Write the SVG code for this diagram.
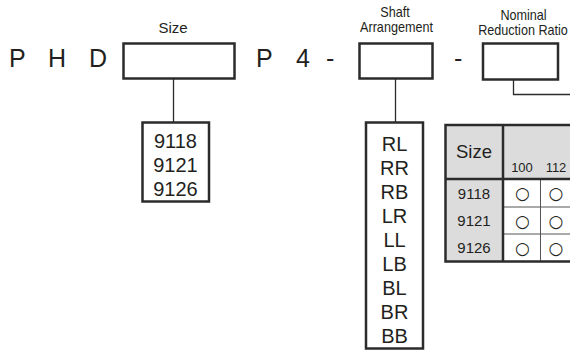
<svg xmlns="http://www.w3.org/2000/svg" width="570" height="350" viewBox="0 0 570 350">
<style>
.code{font-family:"Liberation Sans",Arial,sans-serif;font-size:25px;fill:#231f20}
.lbl{font-family:"Liberation Sans",Arial,sans-serif;font-size:14.5px;fill:#231f20;text-anchor:middle}
.lblw{font-family:"Liberation Sans",Arial,sans-serif;font-size:15px;fill:#231f20;text-anchor:middle}
.box{fill:#fff;stroke:#2b2b2b;stroke-width:2.5}
.item{font-family:"Liberation Sans",Arial,sans-serif;font-size:20px;fill:#231f20;text-anchor:middle}
.conn{fill:none;stroke:#2b2b2b;stroke-width:1.3}
.th{font-family:"Liberation Sans",Arial,sans-serif;fill:#231f20;text-anchor:middle}
.gray{fill:#dcdcdc}
.thick{stroke:#2b2b2b;stroke-width:2.5;fill:none}
.thin{stroke:#555;stroke-width:1;fill:none}
.mark{font-family:"DejaVu Sans",sans-serif;font-size:17px;fill:#231f20;text-anchor:middle}
</style>

<g id="code-letters">
<text class="code" x="9" y="67">P</text>
<text class="code" x="48" y="67">H</text>
<text class="code" x="89" y="67">D</text>
<text class="code" x="256" y="67">P</text>
<text class="code" x="296" y="67">4</text>
<text class="code" x="326" y="67">-</text>
<text class="code" x="454" y="67">-</text>
</g>

<g id="size-field">
<text class="lblw" x="173" y="33">Size</text>
<rect class="box" x="123.5" y="43.5" width="111" height="35"/>
</g>

<g id="shaft-field">
<text class="lbl" transform="translate(395,17) scale(0.87,1)">Shaft</text>
<text class="lbl" transform="translate(396.5,32) scale(0.87,1)">Arrangement</text>
<rect class="box" x="359.5" y="43.5" width="73" height="35"/>
</g>

<g id="ratio-field">
<text class="lbl" transform="translate(523.5,20) scale(0.87,1)">Nominal</text>
<text class="lbl" transform="translate(523,35) scale(0.87,1)">Reduction Ratio</text>
<rect class="box" x="483" y="43.5" width="75" height="36"/>
</g>

<g id="connectors">
<line class="conn" x1="173.5" y1="79" x2="173.5" y2="123"/>
<line class="conn" x1="395.5" y1="79" x2="395.5" y2="123"/>
<polyline class="conn" points="513.5,80 513.5,94.5 570,94.5" stroke="#555"/>
</g>

<g id="size-list">
<rect class="box" x="142.5" y="122.5" width="66.5" height="79"/>
<text class="item" x="175.5" y="148">9118</text>
<text class="item" x="175.5" y="172">9121</text>
<text class="item" x="175.5" y="196">9126</text>
</g>

<g id="shaft-list">
<rect class="box" x="366" y="122.5" width="57" height="226"/>
<text class="item" x="394.5" y="151">RL</text>
<text class="item" x="394.5" y="175">RR</text>
<text class="item" x="394.5" y="199">RB</text>
<text class="item" x="394.5" y="223">LR</text>
<text class="item" x="394.5" y="247">LL</text>
<text class="item" x="394.5" y="271">LB</text>
<text class="item" x="394.5" y="295">BL</text>
<text class="item" x="394.5" y="319">BR</text>
<text class="item" x="394.5" y="343">BB</text>
</g>

<g id="ratio-table">
<rect class="gray" x="445" y="125" width="130" height="54"/>
<rect class="gray" x="445" y="179" width="58" height="82"/>
<rect x="503" y="179" width="70" height="82" fill="#fff"/>
<line class="thin" x1="503" y1="207" x2="575" y2="207"/>
<line class="thin" x1="503" y1="234" x2="575" y2="234"/>
<line class="thin" x1="540.5" y1="179" x2="540.5" y2="261"/>
<line class="thick" x1="503" y1="125" x2="503" y2="261"/>
<line class="thick" x1="445" y1="179" x2="575" y2="179"/>
<polyline class="thick" points="575,125 445.5,125 445.5,261.5 575,261.5"/>
<text class="th" x="474" y="158" font-size="18.5">Size</text>
<text class="th" x="522" y="172" font-size="13">100</text>
<text class="th" x="556" y="172" font-size="13">112</text>
<text class="th" x="474" y="198.5" font-size="15">9118</text>
<text class="th" x="474" y="226" font-size="15">9121</text>
<text class="th" x="474" y="253" font-size="15">9126</text>
<text class="mark" x="522.5" y="199">○</text>
<text class="mark" x="556" y="199">○</text>
<text class="mark" x="522.5" y="226.5">○</text>
<text class="mark" x="556" y="226.5">○</text>
<text class="mark" x="522.5" y="253.5">○</text>
<text class="mark" x="556" y="253.5">○</text>
</g>
</svg>
